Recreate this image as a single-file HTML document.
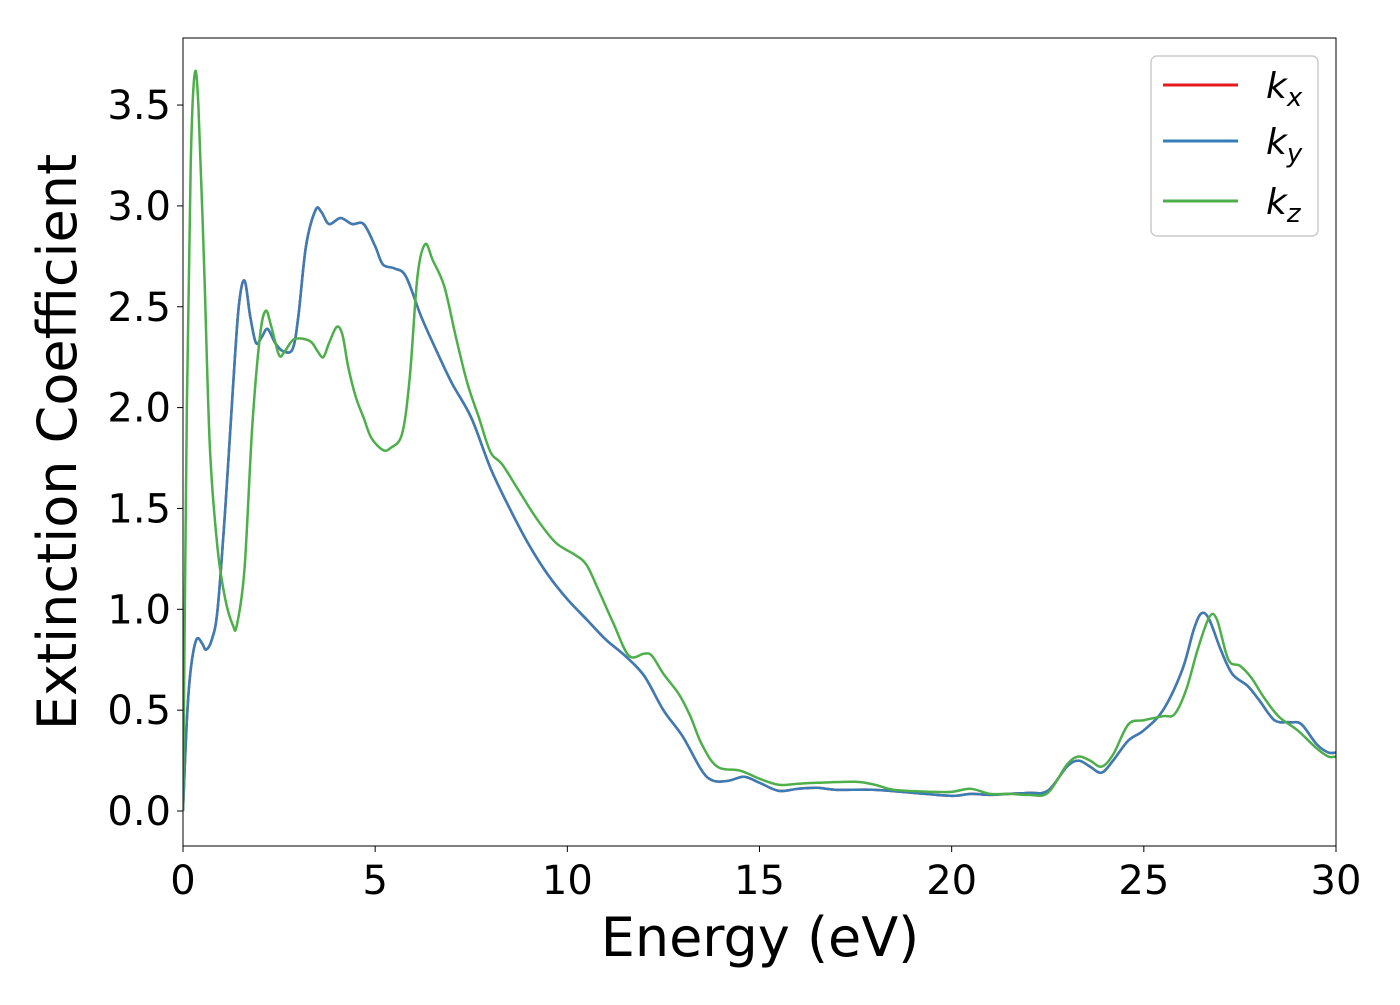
<!DOCTYPE html>
<html><head><meta charset="utf-8"><style>
body{margin:0;background:#fff;}
svg text{font-family:"DejaVu Sans","Liberation Sans",sans-serif;fill:#000;}
</style></head><body>
<svg id="chart" width="1400" height="1000" xmlns="http://www.w3.org/2000/svg">
<g id="plot"></g>
<g id="axes"></g>
<text x="760" y="956" font-size="54" text-anchor="middle">Energy (eV)</text>
<text transform="translate(76,442) rotate(-90)" font-size="54" text-anchor="middle">Extinction Coefficient</text>
<g>
<rect x="1151" y="56" width="167" height="180" rx="6" fill="#fff" stroke="#ccc" stroke-width="1.5"/>
<g><line x1="1163" y1="85" x2="1238" y2="85" stroke="#e41a1c" stroke-width="3"/><text x="1266" y="98" font-size="36" font-style="italic">k<tspan font-size="26" dy="8">x</tspan></text></g>
<g><line x1="1163" y1="141" x2="1238" y2="141" stroke="#377eb8" stroke-width="3"/><text x="1266" y="154" font-size="36" font-style="italic">k<tspan font-size="26" dy="8">y</tspan></text></g>
<g><line x1="1163" y1="201" x2="1238" y2="201" stroke="#4daf4a" stroke-width="3"/><text x="1266" y="214" font-size="36" font-style="italic">k<tspan font-size="26" dy="8">z</tspan></text></g>
</g>
</svg>
<script>
const xTicks=[0,5,10,15,20,25,30];
const yTicks=[0.0,0.5,1.0,1.5,2.0,2.5,3.0,3.5];
const yTickLabels=["0.0","0.5","1.0","1.5","2.0","2.5","3.0","3.5"];
const kxyE=[0,0.1,0.2,0.35,0.5,0.6,0.75,0.9,1.1,1.3,1.45,1.6,1.75,1.9,2.05,2.2,2.4,2.6,2.85,3.0,3.2,3.45,3.6,3.8,4.1,4.4,4.7,5.0,5.2,5.5,5.8,6.2,6.6,7.0,7.5,8.0,8.5,9.0,9.5,10.0,10.5,11.0,11.5,12.0,12.5,13.0,13.5,13.8,14.2,14.6,15.0,15.5,16.0,16.5,17.0,18,19,20,20.5,21,21.5,22,22.5,23.0,23.3,23.6,23.9,24.2,24.6,25.0,25.5,26.0,26.3,26.5,26.7,27.0,27.3,27.7,28.0,28.4,28.8,29.1,29.5,29.8,30];
const kxyV=[0,0.45,0.7,0.85,0.83,0.8,0.85,1.0,1.5,2.1,2.5,2.63,2.45,2.32,2.35,2.39,2.32,2.28,2.29,2.45,2.8,2.98,2.97,2.91,2.94,2.91,2.91,2.8,2.71,2.69,2.65,2.45,2.28,2.12,1.95,1.7,1.5,1.32,1.17,1.05,0.95,0.85,0.77,0.67,0.5,0.37,0.2,0.15,0.15,0.17,0.14,0.1,0.11,0.115,0.105,0.105,0.09,0.075,0.085,0.08,0.085,0.09,0.1,0.22,0.25,0.22,0.19,0.25,0.35,0.4,0.5,0.7,0.9,0.98,0.95,0.8,0.68,0.62,0.55,0.45,0.44,0.43,0.33,0.29,0.29];
const kzE=[0,0.1,0.2,0.3,0.4,0.55,0.7,0.9,1.1,1.3,1.4,1.6,1.8,2.0,2.15,2.3,2.5,2.65,2.9,3.3,3.5,3.65,3.8,4.0,4.15,4.3,4.5,4.7,4.9,5.2,5.4,5.7,5.9,6.1,6.3,6.5,6.8,7.1,7.4,7.7,8.0,8.3,8.7,9.2,9.7,10.2,10.5,10.8,11.2,11.6,12.0,12.2,12.5,12.9,13.2,13.5,13.9,14.5,15.0,15.5,16.0,16.5,17.5,18,18.5,19.5,20.0,20.5,21,21.5,22,22.5,23.0,23.3,23.6,23.9,24.2,24.6,25.0,25.5,25.8,26.1,26.4,26.7,26.9,27.2,27.5,27.8,28.1,28.5,29.0,29.5,29.8,30];
const kzV=[0,2.0,3.2,3.65,3.5,2.7,1.8,1.3,1.05,0.92,0.92,1.2,1.9,2.35,2.48,2.4,2.26,2.28,2.34,2.33,2.28,2.25,2.32,2.4,2.36,2.2,2.05,1.95,1.85,1.79,1.8,1.87,2.15,2.65,2.81,2.73,2.6,2.35,2.12,1.95,1.78,1.72,1.6,1.45,1.33,1.27,1.22,1.1,0.93,0.77,0.78,0.77,0.68,0.58,0.47,0.33,0.22,0.2,0.16,0.13,0.135,0.14,0.145,0.13,0.105,0.095,0.095,0.11,0.085,0.085,0.08,0.09,0.23,0.27,0.25,0.22,0.28,0.43,0.45,0.47,0.48,0.6,0.8,0.96,0.95,0.75,0.72,0.66,0.57,0.47,0.4,0.31,0.27,0.27];
const L=183,R=1336,T=38,B=846,xMin=0,xMax=30,y0px=811,yPer=201.7;
const xs=v=>L+(v-xMin)/(xMax-xMin)*(R-L);
const ys=v=>y0px-v*yPer;
const NS="http://www.w3.org/2000/svg";
function mk(tag,attrs,parent){const e=document.createElementNS(NS,tag);for(const k in attrs)e.setAttribute(k,attrs[k]);parent.appendChild(e);return e;}
const plot=document.getElementById('plot'),axes=document.getElementById('axes');
const cp=mk('clipPath',{id:'clip'},plot);mk('rect',{x:L,y:T,width:R-L,height:B-T},cp);
function path(E,V){let d='';const p=E.map((e,i)=>[xs(e),ys(V[i])]);d='M'+p[0][0]+','+p[0][1];
for(let i=0;i<p.length-1;i++){const p0=p[i-1]||p[i],p1=p[i],p2=p[i+1],p3=p[i+2]||p2;
d+=' C'+(p1[0]+(p2[0]-p0[0])/6)+','+(p1[1]+(p2[1]-p0[1])/6)+' '+(p2[0]-(p3[0]-p1[0])/6)+','+(p2[1]-(p3[1]-p1[1])/6)+' '+p2[0]+','+p2[1];}return d;}
let e;
e=mk('path',{d:path(kxyE,kxyV),fill:'none',stroke:'#e41a1c','stroke-width':2.5,'clip-path':'url(#clip)'},plot);


e=mk('path',{d:path(kxyE,kxyV),fill:'none',stroke:'#377eb8','stroke-width':2.5,'clip-path':'url(#clip)'},plot);


e=mk('path',{d:path(kzE,kzV),fill:'none',stroke:'#4daf4a','stroke-width':2.5,'clip-path':'url(#clip)'},plot);


e=mk('rect',{x:L,y:T,width:R-L,height:B-T,fill:'none',stroke:'#000','stroke-width':1},axes);


xTicks.forEach(t=>{const x=xs(t);mk('line',{x1:x,y1:B,x2:x,y2:B+6,stroke:'#000'},axes);
const tx=mk('text',{x:x,y:B+48,'font-size':40,'text-anchor':'middle'},axes);tx.textContent=t;

});
yTicks.forEach((t,i)=>{const y=ys(t);mk('line',{x1:L-6,y1:y,x2:L,y2:y,stroke:'#000'},axes);
const tx=mk('text',{x:L-12,y:y+14,'font-size':40,'text-anchor':'end'},axes);tx.textContent=yTickLabels[i];

});
</script>
</body></html>
